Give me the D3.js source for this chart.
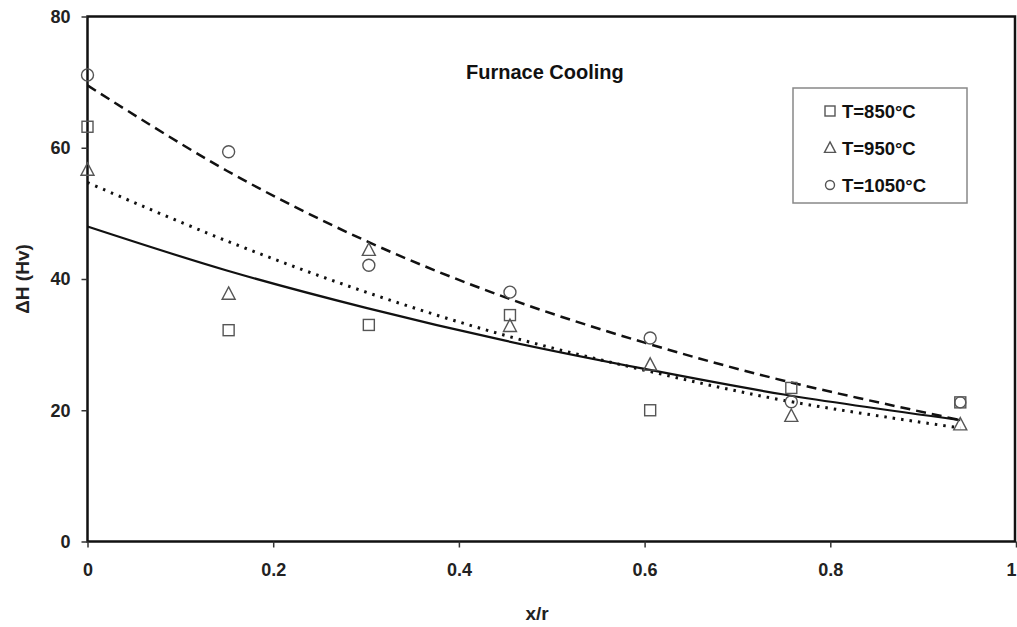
<!DOCTYPE html>
<html>
<head>
<meta charset="utf-8">
<script src="https://cdn.jsdelivr.net/npm/d3@7"></script>
<style>
  body { margin: 0; background: #fff; }
  text { font-family: "Liberation Sans", Arial, sans-serif; font-weight: bold; }
</style>
</head>
<body>
<svg id="chart" width="1017" height="627"></svg>
<script>
// measured points, x/r vs hardness change
const xPos = [0, 0.152, 0.303, 0.455, 0.606, 0.758, 0.94];
const h850 = [63.2, 32.2, 33.0, 34.5, 20.0, 23.4, 21.2];
const h950 = [56.6, 37.7, 44.4, 32.8, 26.9, 19.1, 17.8];
const h1050 = [71.1, 59.4, 42.1, 38.0, 31.0, 21.3, 21.2];

// trend lines
const fitX = [0, 0.15, 0.3, 0.45, 0.6, 0.75, 0.94];
const fitSolid = [48.0, 41.3, 35.6, 30.6, 26.3, 22.4, 18.5];
const fitDotted = [54.7, 45.8, 38.0, 31.4, 26.1, 21.5, 17.3];
const fitDashed = [69.5, 56.5, 45.8, 37.2, 30.3, 24.5, 18.5];

const xTicks = [0, 0.2, 0.4, 0.6, 0.8, 1];
const yTicks = [0, 20, 40, 60, 80];
const legendLabels = ["T=850°C", "T=950°C", "T=1050°C"];

const svg = d3.select("#chart");
const mLeft = 87.5, mRight = 1016, mTop = 16.5, mBottom = 541.5;

const x = d3.scaleLinear().domain([0, 1]).range([mLeft, mRight]);
const y = d3.scaleLinear().domain([0, 80]).range([mBottom, mTop]);

// frame
svg.append("rect")
  .attr("x", mLeft).attr("y", mTop)
  .attr("width", 1015 - mLeft).attr("height", mBottom - mTop)
  .attr("fill", "none").attr("stroke", "#111").attr("stroke-width", 2.5);

const xAxis = svg.append("g")
  .attr("transform", `translate(0,${mBottom})`)
  .call(d3.axisBottom(x).tickValues(xTicks).tickSize(6).tickSizeOuter(0)
    .tickFormat(d => d === 0 ? "0" : d === 1 ? "1" : d3.format(".1f")(d)));
xAxis.select(".domain").remove();
xAxis.selectAll("line").attr("stroke", "#333").attr("stroke-width", 1.5);
xAxis.selectAll("text").attr("font-size", 18).attr("fill", "#222").attr("y", 22).attr("dy", "0.71em");
// last label sits on the page edge
xAxis.selectAll(".tick").filter(d => d === 1).select("text").attr("text-anchor", "end").attr("dx", 0);

const yAxis = svg.append("g")
  .attr("transform", `translate(${mLeft},0)`)
  .call(d3.axisLeft(y).tickValues(yTicks).tickSize(6).tickSizeOuter(0));
yAxis.select(".domain").remove();
yAxis.selectAll("line").attr("stroke", "#333").attr("stroke-width", 1.5);
yAxis.selectAll("text").attr("font-size", 18).attr("fill", "#222").attr("x", -17);

// axis titles
svg.append("text").attr("x", 537).attr("y", 620)
  .attr("text-anchor", "middle").attr("font-size", 19).attr("fill", "#222").text("x/r");
svg.append("text").attr("transform", "translate(29,279) rotate(-90)")
  .attr("text-anchor", "middle").attr("font-size", 19).attr("fill", "#222").text("ΔH (Hv)");

svg.append("text").attr("x", 466).attr("y", 79)
  .attr("font-size", 20).attr("fill", "#111").text("Furnace Cooling");

// curves
const line = d3.line().x(d => x(d[0])).y(d => y(d[1])).curve(d3.curveCatmullRom);
const curves = [
  { vals: fitSolid, dash: null, w: 2.2 },
  { vals: fitDotted, dash: "2.5,6", w: 3 },
  { vals: fitDashed, dash: "10,6", w: 2.5 }
];
curves.forEach(c => {
  svg.append("path")
    .datum(fitX.map((v, i) => [v, c.vals[i]]))
    .attr("d", line)
    .attr("fill", "none").attr("stroke", "#111")
    .attr("stroke-width", c.w)
    .attr("stroke-dasharray", c.dash);
});

// markers
const mk = "#555";
function square(g, cx, cy, s) {
  g.append("rect").attr("x", cx - s / 2).attr("y", cy - s / 2)
    .attr("width", s).attr("height", s)
    .attr("fill", "none").attr("stroke", mk).attr("stroke-width", 1.4);
}
function triangle(g, cx, cy, s) {
  g.append("path")
    .attr("d", `M${cx},${cy - s * 0.55}L${cx + s / 2},${cy + s * 0.4}L${cx - s / 2},${cy + s * 0.4}Z`)
    .attr("fill", "none").attr("stroke", mk).attr("stroke-width", 1.4);
}
function circle(g, cx, cy, r) {
  g.append("circle").attr("cx", cx).attr("cy", cy).attr("r", r)
    .attr("fill", "none").attr("stroke", mk).attr("stroke-width", 1.4);
}

const pts = svg.append("g");
h850.forEach((v, i) => square(pts, x(xPos[i]), y(v), 11));
h950.forEach((v, i) => triangle(pts, x(xPos[i]), y(v), 13));
h1050.forEach((v, i) => circle(pts, x(xPos[i]), y(v), i === 6 ? 5.5 : 6));

// legend
const lg = svg.append("g");
lg.append("rect").attr("x", 793).attr("y", 88).attr("width", 174).attr("height", 115)
  .attr("fill", "#fff").attr("stroke", "#888").attr("stroke-width", 1.5);
const shapes = [
  (cy) => square(lg, 830, cy, 10),
  (cy) => triangle(lg, 830, cy, 11),
  (cy) => circle(lg, 830, cy, 4.5)
];
legendLabels.forEach((t, i) => {
  const cy = 111 + i * 37;
  shapes[i](cy);
  lg.append("text").attr("x", 842).attr("y", cy + 6.5)
    .attr("font-size", 18.5).attr("fill", "#111").text(t);
});
</script>
</body>
</html>
